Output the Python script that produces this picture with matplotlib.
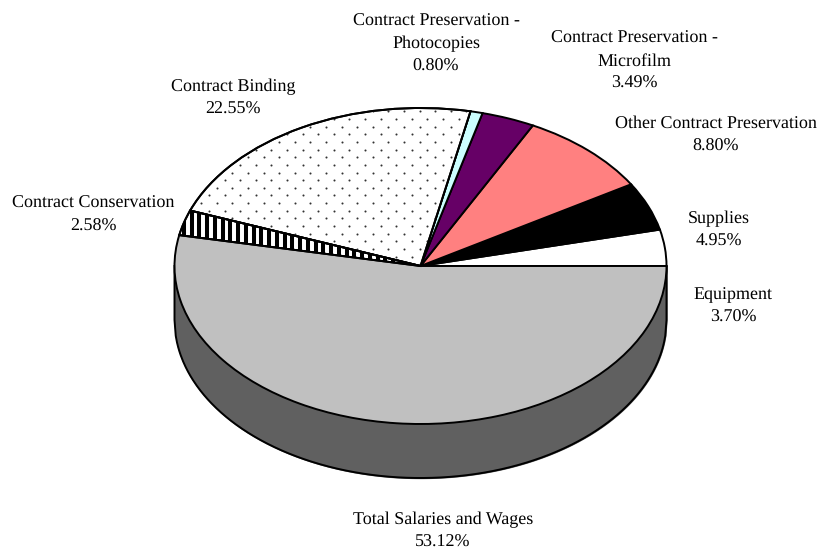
import numpy as np
import matplotlib
matplotlib.use('Agg')
import matplotlib.pyplot as plt
from matplotlib.patches import PathPatch

plt.rcParams['font.family'] = ['Liberation Serif', 'DejaVu Serif']
plt.rcParams['text.hinting'] = 'no_hinting'

# Порядок секторов - против часовой стрелки, начиная с 0 градусов
categories = ['Equipment', 'Supplies', 'Other Contract Preservation',
              'Contract Preservation -\nMicrofilm', 'Contract Preservation -\nPhotocopies',
              'Contract Binding', 'Contract Conservation', 'Total Salaries and Wages']
shares = [3.70, 4.95, 8.80, 3.49, 0.80, 22.55, 2.58, 53.12]
colors = ['white', 'black', '#FF8080', '#660066', '#CCFFFF', 'white', 'white', '#C0C0C0']

# Центры подписей в пикселях картинки
label_x = [733, 719, 716, 634, 436, 233, 93, 443]
label_y = [306, 230, 135, 61, 44, 98, 215, 531]

W, H = 818, 550
CX, CY = 420.5, 266
RX, RY = 246, 158
DEPTH = 54 / RY

fig = plt.figure(figsize=(W / 100, H / 100), dpi=100)
ax = fig.add_axes([0, 0, 1, 1])

wedges, _ = ax.pie(shares, colors=colors, startangle=0, counterclock=True,
                   wedgeprops={'edgecolor': 'black', 'linewidth': 1.4, 'zorder': 3})
ax.set_aspect('auto')
ax.set_xlim(-CX / RX, (W - CX) / RX)
ax.set_ylim(-(H - CY) / RY, CY / RY)
ax.axis('off')

# Боковая стенка "объемного" круга
xs = np.linspace(-1, 1, 400)
lower = -np.sqrt(1 - xs ** 2)
ax.fill_between(xs, lower, lower - DEPTH, color='#606060', zorder=1)
ax.plot(np.r_[-1, xs, 1], np.r_[0, lower - DEPTH, 0], color='black', lw=1.4, zorder=2)

# Точечная штриховка для Contract Binding
dot_x, dot_y = [], []
for i, row in enumerate(np.arange(CY - 170, CY + 10, 7.65)):
    cols = np.arange(170 + (i % 2) * 7.8, 500, 15.6)
    dot_x.extend((cols - CX) / RX)
    dot_y.extend([(CY - row) / RY] * len(cols))
dots = ax.scatter(dot_x, dot_y, s=2.2, color='#333333', linewidths=0, zorder=4)
dots.set_clip_path(wedges[5])

# Вертикальные полосы для Contract Conservation
stripe_x = (np.arange(176, 425, 7.75) - CX) / RX
stripes = ax.vlines(stripe_x, -0.5, 1, color='black', linewidth=2.9, zorder=4)
stripes.set_clip_path(wedges[6])

# Контур поверх штриховки
for w in (wedges[5], wedges[6]):
    ax.add_patch(PathPatch(w.get_path(), transform=w.get_transform(), fill=False,
                           edgecolor='black', linewidth=1.4, zorder=5))

for name, share, x, y in zip(categories, shares, label_x, label_y):
    fig.text(x / W, 1 - y / H, f'{name}\n{share:.2f}%', ha='center', va='center',
             fontsize=13, linespacing=1.47, color='black')

fig.savefig('out.png', dpi=100)
